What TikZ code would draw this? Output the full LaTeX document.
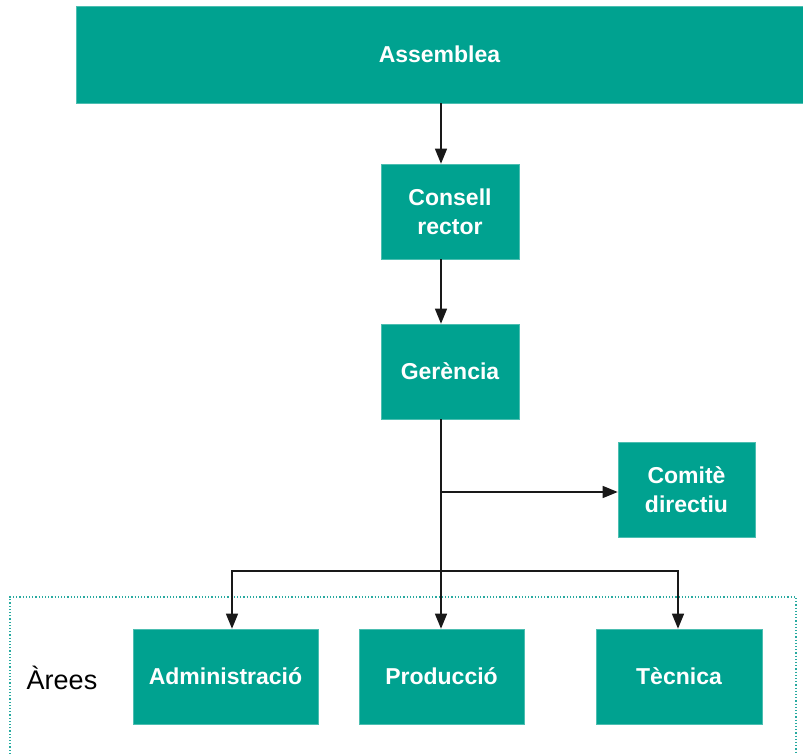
\documentclass[tikz,border=0pt]{standalone}
\usepackage{fontspec}
\setmainfont{Liberation Sans}
\usetikzlibrary{arrows.meta}
\definecolor{teal1}{RGB}{0,162,144}
\definecolor{dotc}{RGB}{40,170,160}
\begin{document}
\begin{tikzpicture}[x=1pt,y=-1pt,
  box/.style={fill=teal1,draw=teal1!70!white,line width=0.6pt,text=white,font=\fontsize{23}{29}\selectfont\bfseries,align=center,inner sep=0pt},
  conn/.style={line width=1.3pt,draw=black!90},
  arr/.style={conn,-{Triangle[length=15pt,width=12pt]}}]
\useasboundingbox (0,0) rectangle (803,754);
\draw[dotc,dotted,line width=1.2pt] (10,754) -- (10,597) -- (796,597) -- (796,754);
\node[box,minimum width=727pt,minimum height=97pt] (asm) at (439.5,54.5) {Assemblea};
\node[box,minimum width=138pt,minimum height=95pt] (con) at (450,211.5) {Consell\\rector};
\node[box,minimum width=138pt,minimum height=95pt] (ger) at (450,371.5) {Gerència};
\node[box,minimum width=137pt,minimum height=95pt] (com) at (686.5,489.5) {Comitè\\directiu};
\node[box,minimum width=185pt,minimum height=95pt] (adm) at (225.5,676.5) {Administració};
\node[box,minimum width=165pt,minimum height=95pt] (pro) at (441.5,676.5) {Producció};
\node[box,minimum width=166pt,minimum height=95pt] (tec) at (679,676.5) {Tècnica};
\node[font=\fontsize{27}{30}\selectfont,anchor=center] (are) at (62,678) {Àrees};
\coordinate (j1) at (441,492);
\coordinate (j2) at (441,571);
\coordinate (ja) at (232,571);
\coordinate (jt) at (678,571);
\draw[arr] (asm.south -| 441,0) -- (con.north -| 441,0);
\draw[arr] (con.south -| 441,0) -- (ger.north -| 441,0);
\draw[conn] (ger.south -| 441,0) -- (j2);
\draw[arr] (j1) -- (com.west |- j1);
\draw[arr] (j2) -- (pro.north -| j2);
\draw[arr] (j2) -- (ja) -- (adm.north -| ja);
\draw[arr] (j2) -- (jt) -- (tec.north -| jt);
\end{tikzpicture}
\end{document}
